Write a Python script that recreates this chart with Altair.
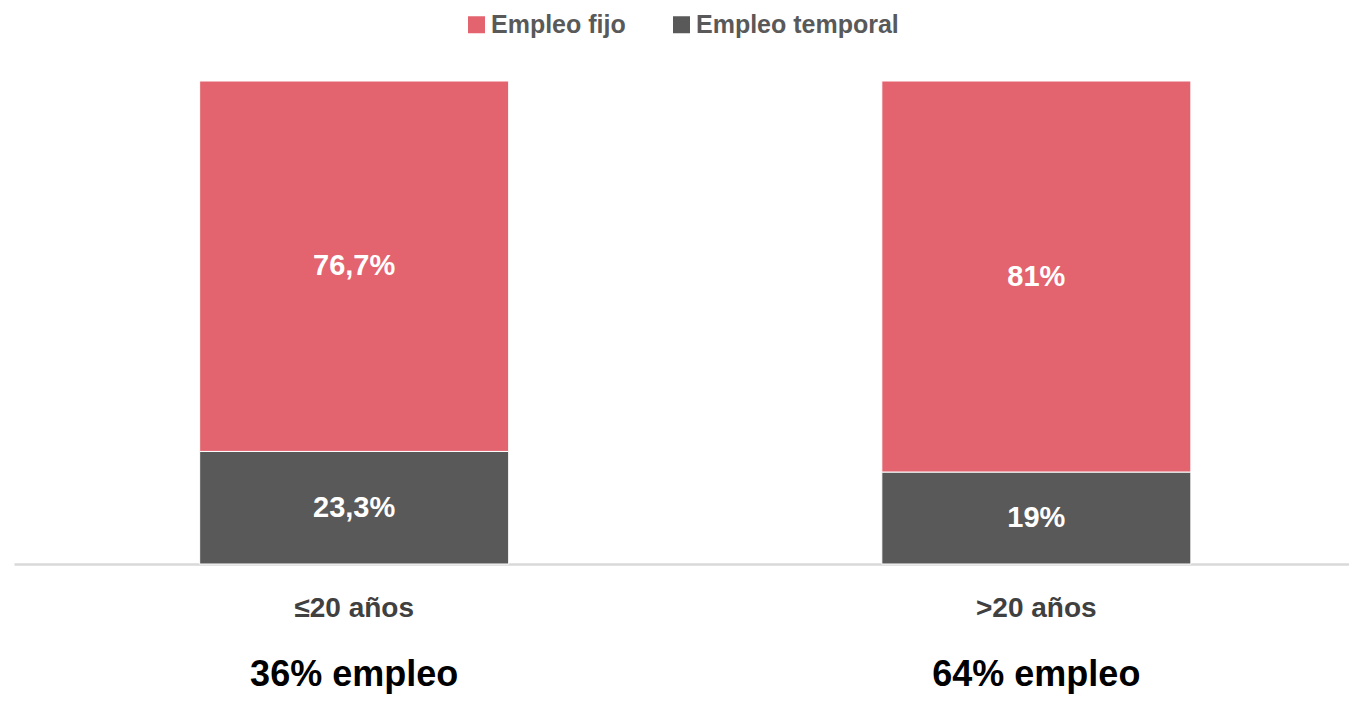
import altair as alt
import pandas as pd

categories = ["≤20 años", ">20 años"]
subtitles = ["36% empleo", "64% empleo"]
series = ["Empleo fijo", "Empleo temporal"]
fijo = [76.7, 81]
temporal = [23.3, 19]
colors = ["#E3636E", "#595959"]

rows = []
for i, c in enumerate(categories):
    rows.append({"cat": c, "serie": series[0], "value": fijo[i], "ord": 1})
    rows.append({"cat": c, "serie": series[1], "value": temporal[i], "ord": 0})
df = pd.DataFrame(rows)
cat_df = pd.DataFrame({"cat": categories, "sub": subtitles})

FONT = "Liberation Sans, Arial, sans-serif"
xscale = alt.Scale(domain=categories, paddingInner=0.547, paddingOuter=0.252, align=0.54)
yscale = alt.Scale(domain=[0, 100], nice=False)

x_axis = alt.X("cat:N", scale=xscale, sort=categories,
               axis=alt.Axis(title=None, labels=False, ticks=False, grid=False,
                             domainColor="#D9D9D9", domainWidth=2.5))
x_plain = alt.X("cat:N", scale=xscale, sort=categories)

base = alt.Chart(df)
bars = base.mark_bar(stroke="white", strokeWidth=1).encode(
    x=x_axis,
    y=alt.Y("value:Q", stack="zero", scale=yscale, axis=None),
    color=alt.Color("serie:N", scale=alt.Scale(domain=series, range=colors),
                    legend=alt.Legend(title=None, orient="none", legendX=450, legendY=-69,
                                      direction="horizontal", symbolType="square",
                                      symbolSize=289, labelFontSize=25, labelFont=FONT,
                                      labelFontWeight="bold", labelColor="#595959",
                                      columnPadding=43, labelOffset=2, padding=0,
                                      labelLimit=0,
                                      symbolStrokeWidth=0, symbolOpacity=1)),
    order=alt.Order("ord:Q"),
)

values = base.transform_stack(
    stack="value", groupby=["cat"], as_=["y0", "y1"],
    sort=[alt.SortField("ord", "ascending")]
).transform_calculate(
    mid="(datum.y0 + datum.y1) / 2",
    label="replace(toString(datum.value), '.', ',') + '%'"
).mark_text(font=FONT, fontWeight="bold", fontSize=29, color="white").encode(
    x=x_plain,
    y=alt.Y("mid:Q", scale=yscale, axis=None),
    text="label:N",
)

cat_text = alt.Chart(cat_df).mark_text(font=FONT, fontWeight="bold", fontSize=28,
                                       color="#404040").encode(
    x=x_plain, y=alt.value(528), text="cat:N")
sub_text = alt.Chart(cat_df).mark_text(font=FONT, fontWeight="bold", fontSize=36,
                                       color="#000000").encode(
    x=x_plain, y=alt.value(594), text="sub:N")

chart = alt.layer(bars, values, cat_text, sub_text).properties(
    width=1335, height=483,
    padding={"left": 6, "top": 73, "right": 0, "bottom": 133},
    autosize="none",
).configure_view(stroke=None)

chart.save("out.html", embed_options={"renderer": "svg", "actions": False})
